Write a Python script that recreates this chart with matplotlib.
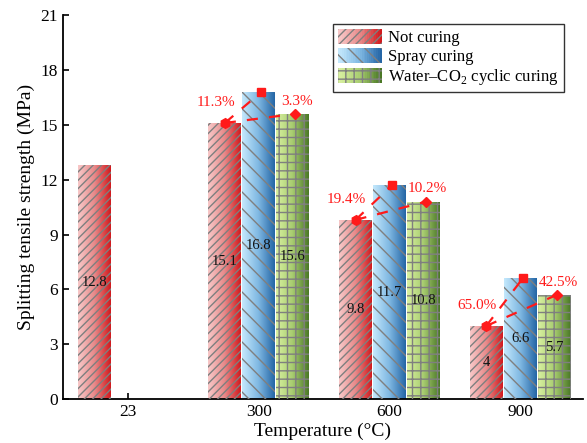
import numpy as np
import matplotlib.pyplot as plt
from matplotlib.colors import LinearSegmentedColormap
from matplotlib.patches import Rectangle
from matplotlib.legend_handler import HandlerBase

plt.rcParams['font.family'] = ['Liberation Serif', 'DejaVu Serif']
plt.rcParams['mathtext.fontset'] = 'custom'
plt.rcParams['mathtext.rm'] = 'Liberation Serif'
plt.rcParams['hatch.linewidth'] = 1.0

# strength data (MPa)
temps = ['23', '300', '600', '900']
not_curing = [12.8, 15.1, 9.8, 4.0]
spray_curing = [np.nan, 16.8, 11.7, 6.6]
water_co2 = [np.nan, 15.6, 10.8, 5.7]

series = [
    ('Not curing', not_curing, ['#f8c8c8', '#e88a8a', '#d21a1e'], '////'),
    ('Spray curing', spray_curing, ['#c4e8fc', '#7fb8e2', '#2566a6'], '\\\\'),
    (r'Water–CO$_2$ cyclic curing', water_co2, ['#d8f0a0', '#a8cc70', '#4a7826'], '++'),
]

hatch_grey = '#7f7f7f'
step = 0.26
width = 0.252

fig, ax = plt.subplots(figsize=(5.87, 4.43), dpi=100)
fig.subplots_adjust(left=0.107, right=0.993, bottom=0.099, top=0.966)

x = np.arange(len(temps))
grad = np.linspace(0, 1, 64).reshape(1, -1)
for i, (name, vals, cols, hatch) in enumerate(series):
    cmap = LinearSegmentedColormap.from_list(name, cols)
    vals = np.array(vals)
    ok = ~np.isnan(vals)
    bars = ax.bar(x[ok] + (i - 1) * step, vals[ok], width, facecolor='none',
                  edgecolor=hatch_grey, linewidth=0, hatch=hatch, zorder=3)
    for b, v in zip(bars, vals[ok]):
        x0, y0 = b.get_x(), b.get_y()
        im = ax.imshow(grad, extent=[x0, x0 + b.get_width(), y0, y0 + b.get_height()],
                       cmap=cmap, aspect='auto', origin='lower', zorder=2)
        im.set_clip_path(b)
        ax.text(b.get_x() + b.get_width() / 2, v / 2, f'{v:g}', ha='center',
                va='center', fontsize=10.5, color='#111111', zorder=5)

# increase of the cured specimens over not curing
red = '#ff1a1a'
for k in range(1, len(temps)):
    xn, yn = x[k] - step, not_curing[k]
    xs, ys = x[k], spray_curing[k]
    xw, yw = x[k] + step, water_co2[k]
    ax.plot([xn, xs + 0.02], [yn, ys], color=red, lw=1.6, dashes=(5, 5), zorder=6)
    ax.plot([xn, xw + 0.02], [yn, yw], color=red, lw=1.6, dashes=(5, 5), zorder=6)
    ax.plot(xn, yn, marker='h', ms=7, color=red, zorder=7)
    ax.plot(xs + 0.02, ys, marker='s', ms=6, color=red, zorder=7)
    ax.plot(xw + 0.02, yw, marker='D', ms=5.5, color=red, zorder=7)
    ax.text(xn - 0.07, yn + 1.1, f'{(ys - yn) / yn * 100:.1f}%', color=red,
            fontsize=11, ha='center', va='center', zorder=8)
    ax.text(xw + 0.03, yw + 0.7, f'{(yw - yn) / yn * 100:.1f}%', color=red,
            fontsize=11, ha='center', va='center', zorder=8)

ax.set_xlim(-0.5, 3.48)
ax.set_ylim(0, 21)
ax.set_yticks(np.arange(0, 22, 3))
ax.set_xticks(x)
ax.set_xticklabels(temps)
ax.tick_params(direction='in', length=4, width=1.2, labelsize=12.5)
for s in ['top', 'right']:
    ax.spines[s].set_visible(False)
for s in ['left', 'bottom']:
    ax.spines[s].set_linewidth(1.3)
ax.set_xlabel('Temperature (°C)', fontsize=14, labelpad=2)
ax.set_ylabel('Splitting tensile strength (MPa)', fontsize=14, labelpad=4)


class GradientHandler(HandlerBase):
    def __init__(self, cols, hatch):
        super().__init__()
        self.cmap = LinearSegmentedColormap.from_list('h', cols)
        self.hatch = hatch

    def create_artists(self, legend, orig_handle, xdescent, ydescent,
                       width, height, fontsize, trans):
        arts = []
        n = 24
        for j in range(n):
            r = Rectangle((-xdescent + width * j / n, -ydescent), width / n + 0.3,
                          height, facecolor=self.cmap(j / (n - 1)), linewidth=0,
                          transform=trans)
            arts.append(r)
        arts.append(Rectangle((-xdescent, -ydescent), width, height, facecolor='none',
                              edgecolor=hatch_grey, linewidth=0, hatch=self.hatch,
                              transform=trans))
        return arts


handles = [Rectangle((0, 0), 1, 1) for _ in series]
hmap = {h: GradientHandler(s[2], s[3]) for h, s in zip(handles, series)}
leg = ax.legend(handles, [s[0] for s in series], handler_map=hmap, loc='upper right',
                bbox_to_anchor=(0.97, 0.985), fontsize=12, frameon=True, fancybox=False,
                handlelength=2.6, handleheight=1.0, labelspacing=0.1,
                borderpad=0.3, handletextpad=0.4, borderaxespad=0.2)
leg.get_frame().set_edgecolor('black')
leg.get_frame().set_linewidth(1.0)

fig.savefig('out.png', dpi=100)
